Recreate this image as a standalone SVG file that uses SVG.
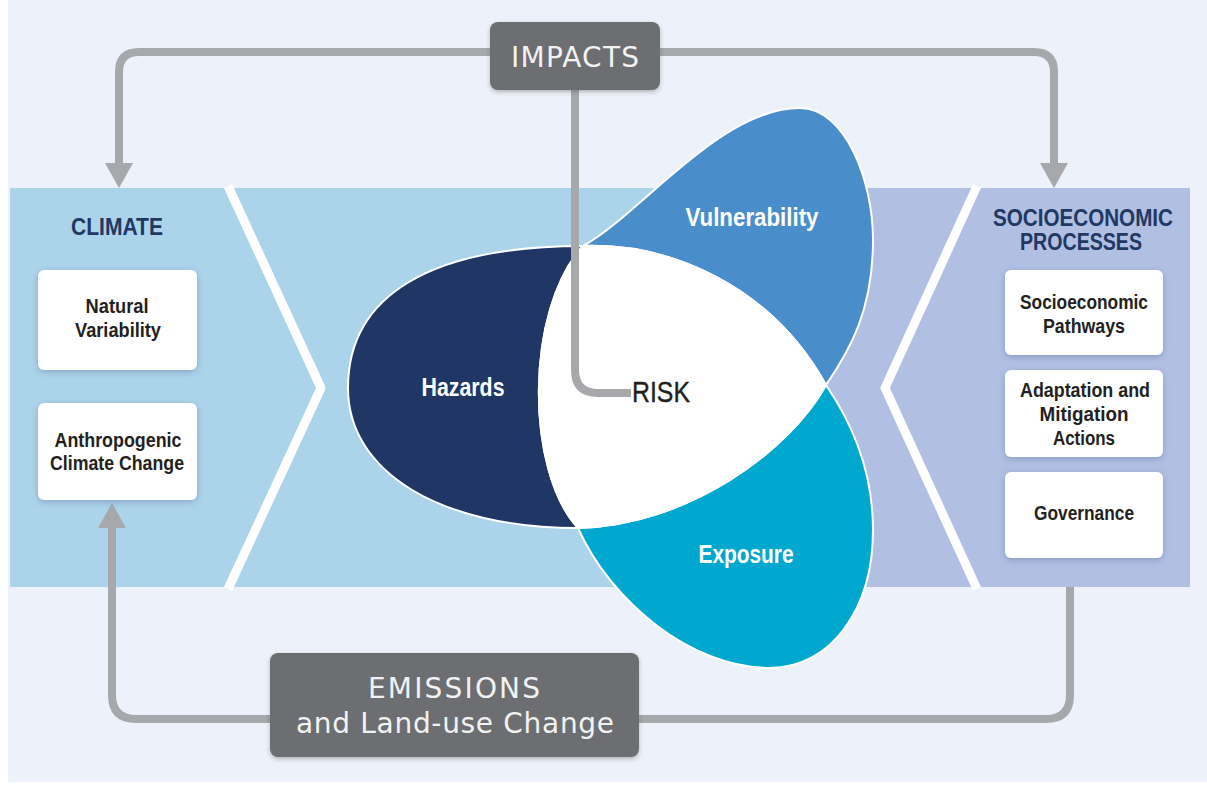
<svg xmlns="http://www.w3.org/2000/svg" width="1207" height="785" viewBox="0 0 1207 785">
<defs>
<style>
.title{font-family:"Liberation Sans",Arial,sans-serif;font-weight:bold;font-size:23px;fill:#1f3864;text-anchor:middle}
.lbl{font-family:"Liberation Sans",Arial,sans-serif;font-weight:bold;font-size:20px;fill:#231f20;text-anchor:middle}
.petal{font-family:"Liberation Sans",Arial,sans-serif;font-weight:bold;font-size:25px;fill:#ffffff;text-anchor:middle}
.gray{font-family:"DejaVu Sans",Verdana,sans-serif;font-size:28px;fill:#f2f2f2;text-anchor:middle}
.box{fill:#ffffff;filter:url(#sh)}
.gbox{fill:#6d6e71;filter:url(#sh2)}
.conn{fill:none;stroke:#a6a8ab;stroke-width:8}
</style>
<filter id="sh" x="-20%" y="-20%" width="140%" height="140%"><feDropShadow dx="0" dy="2" stdDeviation="3" flood-color="#4a5a85" flood-opacity="0.35"/></filter>
<filter id="sh2" x="-20%" y="-20%" width="140%" height="140%"><feDropShadow dx="0" dy="2" stdDeviation="2" flood-color="#333" flood-opacity="0.3"/></filter>
<marker id="ah" markerUnits="userSpaceOnUse" markerWidth="26" markerHeight="28" refX="0" refY="14" orient="auto"><path d="M0,0 L25,14 L0,28 Z" fill="#a6a8ab"/></marker>
</defs>
<rect x="0" y="0" width="1207" height="785" fill="#ffffff"/>
<rect x="8" y="0" width="1199" height="782" fill="#edf1f9"/>
<g id="band">
<rect x="10" y="188" width="822" height="399" fill="#abd3ea"/>
<rect x="828" y="188" width="362" height="399" fill="#b0bfe2"/>
<polyline points="228,186 321,388 228,589" fill="none" stroke="#ffffff" stroke-width="9" stroke-linejoin="round"/>
<polyline points="977,186 885,388 977,589" fill="none" stroke="#ffffff" stroke-width="9" stroke-linejoin="round"/>
</g>
<g id="hazards">
<path d="M583,246 C430,246 348,296 348,388 C348,472 440,528 578,528 C525,470 525,310 583,246 Z" fill="#203765" stroke="#ffffff" stroke-width="2"/>
<text class="petal" x="463" y="396" textLength="83" lengthAdjust="spacingAndGlyphs">Hazards</text>
</g>
<g id="vulnerability">
<path d="M583,246 C640,215 720,108 800,108 C845,108 873,180 873,240 C873,310 850,350 826,385 C770,285 670,243 583,246 Z" fill="#4a8dcb" stroke="#ffffff" stroke-width="2"/>
<text class="petal" x="752" y="226" textLength="133" lengthAdjust="spacingAndGlyphs">Vulnerability</text>
</g>
<g id="exposure">
<path d="M826,385 C850,420 873,470 873,530 C873,610 830,668 770,668 C690,668 610,600 578,528 C690,525 790,450 826,385 Z" fill="#00a7cf" stroke="#ffffff" stroke-width="2"/>
<text class="petal" x="746" y="563" textLength="95" lengthAdjust="spacingAndGlyphs">Exposure</text>
</g>
<g id="risk">
<path d="M583,246 C670,243 770,285 826,385 C790,450 690,525 578,528 C525,470 525,310 583,246 Z" fill="#ffffff" stroke="#ffffff" stroke-width="2"/>
</g>
<g id="connectors">
<path class="conn" d="M490,52 H139 Q119,52 119,72 V163" marker-end="url(#ah)"/>
<path class="conn" d="M660,52 H1034 Q1054,52 1054,72 V163" marker-end="url(#ah)"/>
<path class="conn" d="M1070,587 V695 Q1070,719 1046,719 H639"/>
<path class="conn" d="M270,719 H136 Q112,719 112,695 V528" marker-end="url(#ah)"/>
<path class="conn" d="M575,88 V370 Q575,393 598,393 H631"/>
</g>
<g id="risk-label">
<text x="632" y="402" font-family="'Liberation Sans',Arial,sans-serif" font-size="30" fill="#231f20" stroke="#231f20" stroke-width="0.4" textLength="58" lengthAdjust="spacingAndGlyphs">RISK</text>
</g>
<g id="impacts">
<rect class="gbox" x="490" y="22" width="170" height="68" rx="8"/>
<text class="gray" x="575" y="67" textLength="128">IMPACTS</text>
</g>
<g id="emissions">
<rect class="gbox" x="270" y="653" width="369" height="104" rx="8"/>
<text class="gray" x="454" y="698" textLength="172">EMISSIONS</text>
<text class="gray" x="455" y="733" textLength="318">and Land-use Change</text>
</g>
<g id="climate">
<text class="title" x="117" y="235" textLength="92" lengthAdjust="spacingAndGlyphs">CLIMATE</text>
</g>
<g id="natural-variability">
<rect class="box" x="38" y="270" width="159" height="100" rx="6"/>
<text class="lbl" x="117" y="313" textLength="63" lengthAdjust="spacingAndGlyphs">Natural</text>
<text class="lbl" x="118" y="337" textLength="86" lengthAdjust="spacingAndGlyphs">Variability</text>
</g>
<g id="anthropogenic">
<rect class="box" x="38" y="403" width="159" height="97" rx="6"/>
<text class="lbl" x="118" y="447" textLength="127" lengthAdjust="spacingAndGlyphs">Anthropogenic</text>
<text class="lbl" x="117" y="470" textLength="134" lengthAdjust="spacingAndGlyphs">Climate Change</text>
</g>
<g id="socioeconomic">
<text class="title" x="1083" y="226" textLength="180" lengthAdjust="spacingAndGlyphs">SOCIOECONOMIC</text>
<text class="title" x="1081" y="250" textLength="122" lengthAdjust="spacingAndGlyphs">PROCESSES</text>
</g>
<g id="pathways">
<rect class="box" x="1005" y="270" width="158" height="85" rx="6"/>
<text class="lbl" x="1084" y="309" textLength="128" lengthAdjust="spacingAndGlyphs">Socioeconomic</text>
<text class="lbl" x="1084" y="333" textLength="82" lengthAdjust="spacingAndGlyphs">Pathways</text>
</g>
<g id="adaptation">
<rect class="box" x="1005" y="370" width="158" height="87" rx="6"/>
<text class="lbl" x="1085" y="397" textLength="130" lengthAdjust="spacingAndGlyphs">Adaptation and</text>
<text class="lbl" x="1084" y="421" textLength="89" lengthAdjust="spacingAndGlyphs">Mitigation</text>
<text class="lbl" x="1084" y="445" textLength="62" lengthAdjust="spacingAndGlyphs">Actions</text>
</g>
<g id="governance">
<rect class="box" x="1005" y="472" width="158" height="86" rx="6"/>
<text class="lbl" x="1084" y="520" textLength="100" lengthAdjust="spacingAndGlyphs">Governance</text>
</g>
</svg>
